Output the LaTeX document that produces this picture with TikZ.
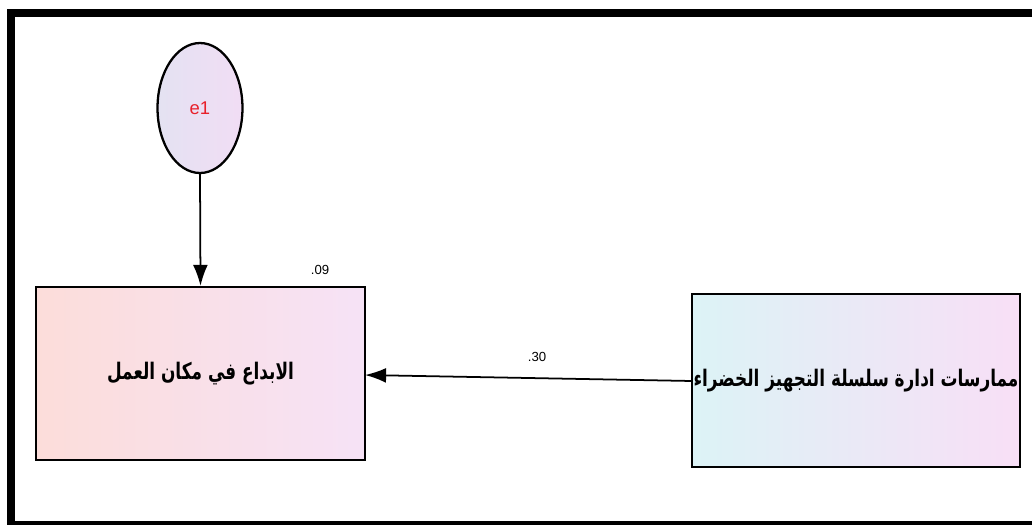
\documentclass[tikz,border=0pt]{standalone}
\usepackage{fontspec}
\setmainfont{Liberation Sans}
\newfontfamily\arabicfont[Script=Arabic,FakeStretch=0.74]{DejaVu Sans}
\TeXXeTstate=1
\usetikzlibrary{arrows.meta,shapes.geometric}
\definecolor{peach}{HTML}{FCDDDA}
\definecolor{pinklav}{HTML}{F6E2F6}
\definecolor{cyanl}{HTML}{DCF3F6}
\definecolor{pinkr}{HTML}{F8DFF6}
\definecolor{lavl}{HTML}{E4E2F2}
\definecolor{lavr}{HTML}{F1DDF4}
\definecolor{ered}{HTML}{E8202A}
\tikzset{
  varbox/.style={draw=black, line width=1.3pt, rectangle, inner sep=0pt},
  errnode/.style={draw=black, line width=1.3pt, ellipse, inner sep=0pt},
  path/.style={draw=black, line width=1pt, -{Latex[length=12pt,width=8.5pt]}},
  coef/.style={font=\fontsize{7.5}{9}\selectfont, inner sep=0pt},
  arlabel/.style={font=\arabicfont\bfseries\fontsize{13}{15}\selectfont, inner sep=0pt}
}
\begin{document}
\begin{tikzpicture}[x=0.02cm,y=-0.02cm]
\useasboundingbox (0,0) rectangle (1032,525);
\fill[white] (0,0) rectangle (1032,525);
% frame
\fill[black] (7,9) rectangle (1032,17);
\fill[black] (7,9) rectangle (15,525);
\fill[black] (7,521) rectangle (1032,525);
% error ellipse
\node[errnode, shading=axis, left color=lavl, right color=lavr, minimum width=1.7cm, minimum height=2.6cm] (e1) at (200,108) {};
\node[text=ered, font=\fontsize{10.5}{12}\selectfont] (e1t) at (e1.center) {e1};
% left box
\node[varbox, minimum width=6.58cm, minimum height=3.46cm, shading=axis, left color=peach, right color=pinklav] (inno) at (200.5,373.5) {};
\node[arlabel] (innot) at (inno.center) {\beginR الابداع في مكان العمل\endR};
% right box
\node[varbox, minimum width=6.56cm, minimum height=3.46cm, shading=axis, left color=cyanl, right color=pinkr] (gscm) at (856,380.5) {};
\node[arlabel] (gscmt) at (gscm.center) {\beginR ممارسات ادارة سلسلة التجهيز الخضراء\endR};
% paths
\draw[path] (e1.south) -- (inno.north);
\coordinate (gsout) at (692,381);
\coordinate (innoin) at (365,375);
\draw[path] (gsout) -- (innoin);
% coefficients
\node[coef] (r2) at (320,270) {.09};
\node[coef] (b1) at (537,357) {.30};
\end{tikzpicture}
\end{document}
